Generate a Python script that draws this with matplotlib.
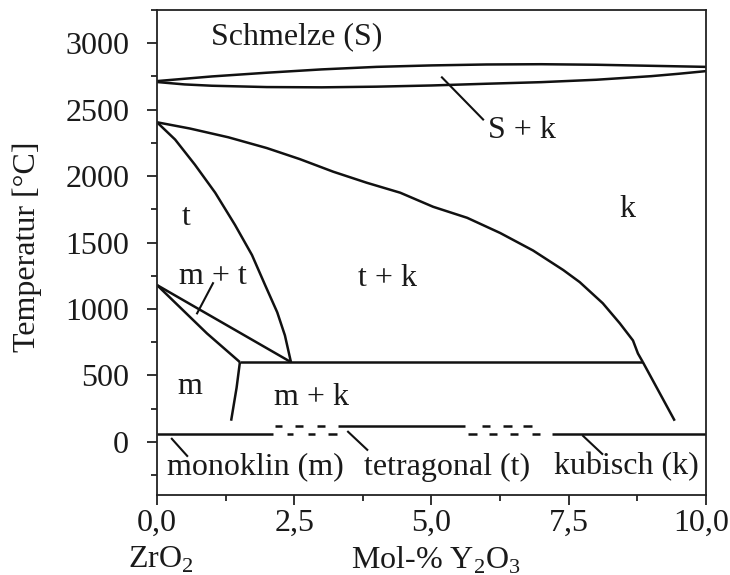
import matplotlib
matplotlib.use("Agg")
import matplotlib.pyplot as plt
from matplotlib.ticker import MultipleLocator, FuncFormatter
from matplotlib.transforms import ScaledTranslation

plt.rcParams['font.family'] = ['Liberation Serif', 'DejaVu Serif']
plt.rcParams['mathtext.fontset'] = 'custom'
plt.rcParams['mathtext.rm'] = 'Liberation Serif'

# ---- data (mol-% Y2O3, temperature °C) ----
liq_x = [0, 1, 2, 3, 4, 5, 6, 7, 8, 9, 10]
liq_t = [2715, 2750, 2778, 2803, 2822, 2833, 2840, 2842, 2838, 2830, 2822]
sol_x = [0, 0.5, 1, 2, 3, 4, 5, 6, 7, 8, 9, 9.5, 10]
sol_t = [2708, 2690, 2680, 2670, 2668, 2673, 2682, 2695, 2707, 2725, 2752, 2770, 2790]

tk_x = [0, 0.6, 1.3, 2.0, 2.6, 3.21, 3.82, 4.43, 5.03, 5.65, 6.25, 6.85, 7.40, 7.70,
        8.12, 8.43, 8.67, 8.76, 8.85]
tk_t = [2405, 2358, 2292, 2211, 2128, 2033, 1950, 1875, 1769, 1686, 1572, 1440, 1293,
        1202, 1043, 892, 763, 665, 600]

t_x = [0, 0.33, 0.69, 1.06, 1.42, 1.73, 1.97, 2.19, 2.33, 2.40, 2.44]
t_t = [2405, 2275, 2086, 1875, 1633, 1406, 1179, 975, 801, 673, 600]

mt_up_x = [0, 2.44]
mt_up_t = [1180, 600]
mt_lo_x = [0, 0.91, 1.51]
mt_lo_t = [1180, 816, 600]

eut_x = [1.51, 8.85]
eut_t = [600, 600]

m_x = [1.51, 1.45, 1.35]
m_t = [600, 408, 159]
k_x = [8.85, 9.43]
k_t = [600, 159]

upper_level = 121
lower_level = 60
upper_segs = [(2.15, 2.28), (2.51, 2.66), (2.91, 3.06), (3.30, 5.61),
              (5.92, 6.07), (6.30, 6.47), (6.67, 6.83)]
lower_segs = [(0, 2.11), (2.37, 2.48), (2.75, 2.88), (3.11, 3.28),
              (5.66, 5.83), (6.05, 6.19), (6.43, 6.58), (6.83, 6.98), (7.19, 10)]

leaders = [((0.73, 1.02), (967, 1194)),
           ((5.19, 5.94), (2743, 2426)),
           ((0.27, 0.55), (23, -106)),
           ((3.48, 3.83), (76, -60)),
           ((7.76, 8.11), (45, -91))]

labels = [("Schmelze (S)", 2.55, 3046),
          ("S + k", 6.65, 2343),
          ("k", 8.56, 1746),
          ("t", 0.53, 1686),
          ("t + k", 4.19, 1232),
          ("m + t", 1.02, 1247),
          ("m", 0.60, 416),
          ("m + k", 2.82, 333),
          ("monoklin (m)", 1.785, -189),
          ("tetragonal (t)", 5.28, -189),
          ("kubisch (k)", 8.55, -189)]

x_ticks = [0, 2.5, 5.0, 7.5, 10.0]
y_ticks = [0, 500, 1000, 1500, 2000, 2500, 3000]

# ---- plot ----
fig = plt.figure(figsize=(7.30, 5.75), dpi=100)
ax = fig.add_axes([157/730, 80/575, 549/730, 485/575])

lw = 1.8
c = '#111111'
fs = 23
for xs, ts in [(liq_x, liq_t), (sol_x, sol_t), (tk_x, tk_t), (t_x, t_t),
               (mt_up_x, mt_up_t), (mt_lo_x, mt_lo_t), (eut_x, eut_t),
               (m_x, m_t), (k_x, k_t)]:
    ax.plot(xs, ts, color=c, lw=lw, solid_capstyle='butt', solid_joinstyle='round')

for a, b in upper_segs:
    ax.plot([a, b], [upper_level, upper_level], color=c, lw=lw, solid_capstyle='butt')
for a, b in lower_segs:
    ax.plot([a, b], [lower_level, lower_level], color=c, lw=lw, solid_capstyle='butt')

for xs, ts in leaders:
    ax.plot(xs, ts, color=c, lw=1.5)

for txt, x, t in labels:
    ax.text(x, t, txt, fontsize=fs, ha='center', va='center', color='#1a1a1a')

ax.set_xlim(0, 10)
ax.set_ylim(-400, 3250)
ax.set_xticks(x_ticks)
ax.set_yticks(y_ticks)
ax.xaxis.set_minor_locator(MultipleLocator(1.25))
ax.yaxis.set_minor_locator(MultipleLocator(250))
ax.xaxis.set_major_formatter(FuncFormatter(lambda v, p: f"{v:.1f}".replace('.', ',')))
ax.tick_params(axis='both', which='major', direction='out', length=7, width=1.3,
               labelsize=fs, color='#222222', labelcolor='#1a1a1a')
ax.tick_params(axis='both', which='minor', direction='out', length=4, width=1.3,
               color='#222222')
ax.tick_params(axis='y', which='major', pad=13)
ax.tick_params(axis='x', which='major', pad=3)
for s in ax.spines.values():
    s.set_linewidth(1.3)
    s.set_color('#222222')

ax.set_ylabel("Temperatur [°C]", fontsize=fs, color='#1a1a1a')
ax.yaxis.set_label_coords(-0.21, 0.511)
fig.text(161/730, 1 - 560/575, r"ZrO$_\mathrm{2}$", fontsize=fs, ha='center', va='center',
         color='#1a1a1a')
fig.text(436/730, 1 - 560/575, r"Mol-% Y$_\mathrm{2}$O$_\mathrm{3}$", fontsize=fs,
         ha='center', va='center', color='#1a1a1a')

fig.canvas.draw()
last = ax.xaxis.get_major_ticks()[-1].label1
last.set_transform(last.get_transform() + ScaledTranslation(-5/100, 0, fig.dpi_scale_trans))

fig.savefig("out.png", dpi=100)
